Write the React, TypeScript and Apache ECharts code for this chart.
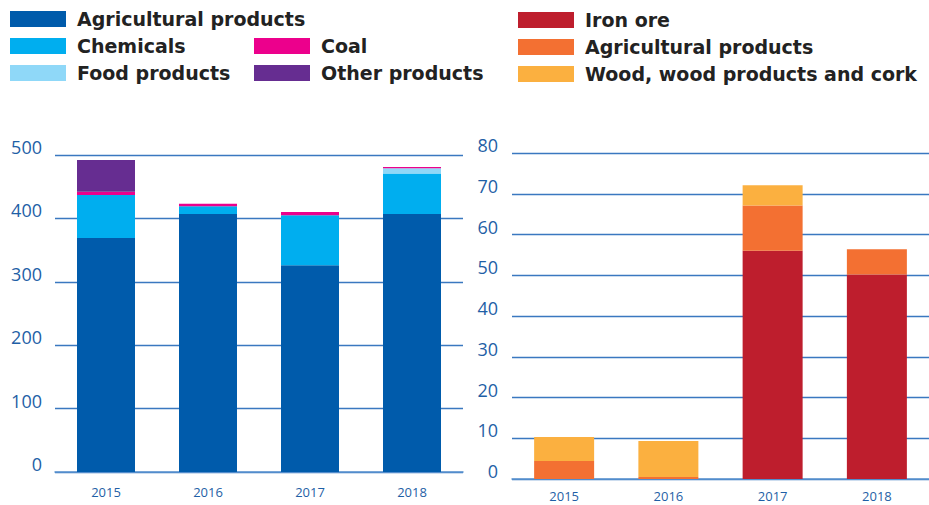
import React, { useEffect, useRef } from "react";
import * as echarts from "echarts";

const years = ["2015", "2016", "2017", "2018"];

// Left chart
const leftAgri = [369, 407, 326, 407];
const leftChem = [68, 12, 79, 64];
const leftFood = [0, 0, 0, 8];
const leftCoal = [5, 4, 5, 2];
const leftOther = [50, 0, 0, 0];
const leftTicks = { min: 0, max: 500, interval: 100 };

// Right chart
const rightIron = [0, 0, 56, 50.2];
const rightAgri = [4.4, 0.5, 11.1, 6.2];
const rightWood = [5.9, 8.8, 5, 0];
const rightTicks = { min: 0, max: 80, interval: 10 };

const leftNames = ["Agricultural products", "Chemicals", "Food products", "Coal", "Other products"];
const leftColors = ["#005bab", "#00aeef", "#8fd8f8", "#ec008c", "#662d91"];
const rightNames = ["Iron ore", "Agricultural products", "Wood, wood products and cork"];
const rightColors = ["#be1e2d", "#f37032", "#fbb040"];

const AXIS_COLOR = "#1f5fa6";
const GRID_COLOR = "#3a78c0";

export default function App() {
  const ref = useRef<HTMLDivElement>(null);
  useEffect(() => {
    const chart = echarts.init(ref.current!, null, { renderer: "svg" });

    const legendItems: any[] = [];
    const addLegend = (x: number, y: number, name: string, color: string) => {
      legendItems.push({
        type: "rect",
        shape: { x, y: y - 8, width: 56, height: 16 },
        style: { fill: color },
      });
      legendItems.push({
        type: "text",
        x: x + 67,
        y,
        style: {
          text: name,
          fill: "#222222",
          font: "bold 19px 'DejaVu Sans', sans-serif",
          verticalAlign: "middle",
        },
      });
    };
    // left legend layout: col1 rows 0,1,2 ; col2 rows 1,2
    const leftPos = [
      [10, 19],
      [10, 46],
      [10, 73],
      [254, 46],
      [254, 73],
    ];
    leftNames.forEach((n, i) => addLegend(leftPos[i][0], leftPos[i][1], n, leftColors[i]));
    rightNames.forEach((n, i) => addLegend(518, 20 + 27 * i, n, rightColors[i]));

    const yLabel = {
      color: AXIS_COLOR,
      fontSize: 18,
      fontFamily: "'Open Sans', sans-serif",
      verticalAlign: "bottom",
      lineHeight: 16,
    };
    const yAxisCommon = {
      type: "value" as const,
      axisLine: { show: false },
      axisTick: { show: false },
      splitLine: { lineStyle: { color: GRID_COLOR, width: 1.3 } },
    };
    const xAxisCommon = {
      type: "category" as const,
      data: years,
      axisLine: { show: true, lineStyle: { color: "#5b93cf", width: 1.5 } },
      axisTick: { show: false },
    };
    const xLabel = { color: AXIS_COLOR, fontSize: 13, fontFamily: "'Open Sans', sans-serif" };

    const mk = (name: string, data: number[], color: string, idx: number, stack: string, bw: number) => ({
      type: "bar" as const,
      name,
      data,
      stack,
      xAxisIndex: idx,
      yAxisIndex: idx,
      barWidth: bw,
      itemStyle: { color },
    });

    chart.setOption({
      animation: false,
      grid: [
        { left: 55, top: 155, width: 408, height: 317 },
        { left: 512, top: 153, width: 417, height: 326 },
      ],
      xAxis: [
        { ...xAxisCommon, gridIndex: 0, axisLabel: { ...xLabel, margin: 13 } },
        { ...xAxisCommon, gridIndex: 1, axisLabel: { ...xLabel, margin: 10 } },
      ],
      yAxis: [
        { ...yAxisCommon, gridIndex: 0, ...leftTicks, axisLabel: { ...yLabel, margin: 13 } },
        { ...yAxisCommon, gridIndex: 1, ...rightTicks, axisLabel: { ...yLabel, margin: 14 } },
      ],
      series: [
        mk("L-" + leftNames[0], leftAgri, leftColors[0], 0, "l", 58),
        mk("L-" + leftNames[1], leftChem, leftColors[1], 0, "l", 58),
        mk("L-" + leftNames[2], leftFood, leftColors[2], 0, "l", 58),
        mk("L-" + leftNames[3], leftCoal, leftColors[3], 0, "l", 58),
        mk("L-" + leftNames[4], leftOther, leftColors[4], 0, "l", 58),
        mk("R-" + rightNames[0], rightIron, rightColors[0], 1, "r", 60),
        mk("R-" + rightNames[1], rightAgri, rightColors[1], 1, "r", 60),
        mk("R-" + rightNames[2], rightWood, rightColors[2], 1, "r", 60),
      ],
      graphic: legendItems,
    });
    return () => chart.dispose();
  }, []);
  return (
    <div
      ref={ref}
      style={{ position: "absolute", left: 0, top: 0, width: 929, height: 505, background: "#fff" }}
    />
  );
}
